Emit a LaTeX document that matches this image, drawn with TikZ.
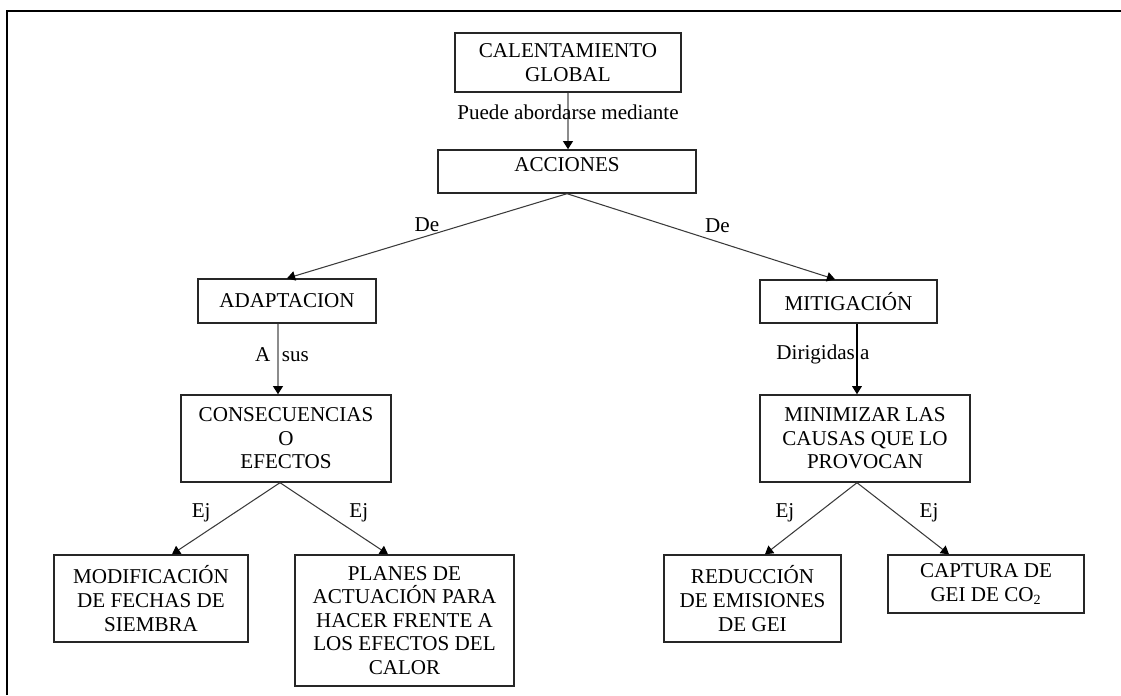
\documentclass[tikz,border=0pt]{standalone}
\usepackage{fontspec}
\setmainfont{Liberation Serif}
\usepackage{tikz}
\usetikzlibrary{arrows.meta, positioning}
\definecolor{boxline}{HTML}{262626}
\definecolor{linkgray}{HTML}{8C8C8C}
\definecolor{linkdark}{HTML}{3A3A3A}
\tikzset{
  concept/.style={draw=boxline, line width=0.8pt, align=center, inner sep=2pt,
    font=\fontsize{12}{13.4}\selectfont},
  tag/.style={font=\fontsize{12}{13.4}\selectfont, inner sep=2pt},
  link/.style={draw=linkdark, line width=0.6pt,
    -{Triangle[length=4.6pt, width=5.4pt, color=black]}},
  linkgrey/.style={draw=linkgray, line width=1.3pt,
    -{Triangle[length=4.6pt, width=5.4pt, color=black]}},
  linkblack/.style={draw=black, line width=0.9pt,
    -{Triangle[length=4.6pt, width=5.4pt, color=black]}}
}

\begin{document}
\begin{tikzpicture}
    \useasboundingbox (0,0) rectangle (22.42,13.9);
    % Frame (left and top only)
    \draw[line width=1.2pt] (0.14,0) |- (22.42,13.68);

    % Top
    \node[concept, minimum width=4.52cm, minimum height=1.18cm] (cal) at (11.36,12.65) {CALENTAMIENTO\\GLOBAL};
    \node[concept, minimum width=5.16cm, minimum height=0.86cm, text depth=0.26cm] (acc) at (11.34,10.47) {ACCIONES};

    % Two branches
    \node[concept, minimum width=3.56cm, minimum height=0.88cm] (adap) at (5.74,7.88) {ADAPTACION};
    \node[concept, minimum width=3.54cm, minimum height=0.86cm] (mit) at (16.97,7.87) {MITIGACIÓN};
    \node[concept, minimum width=4.2cm, minimum height=1.74cm] (cons) at (5.72,5.13) {CONSECUENCIAS\\O\\EFECTOS};
    \node[concept, minimum width=4.2cm, minimum height=1.74cm] (mini) at (17.3,5.13) {MINIMIZAR LAS\\CAUSAS QUE LO\\PROVOCAN};

    % Examples
    \node[concept, minimum width=3.88cm, minimum height=1.74cm] (modif) at (3.02,1.93) {MODIFICACIÓN\\DE FECHAS DE\\SIEMBRA};
    \node[concept, minimum width=4.38cm, minimum height=2.62cm] (plan) at (8.09,1.49) {PLANES DE\\ACTUACIÓN PARA\\HACER FRENTE A\\LOS EFECTOS DEL\\CALOR};
    \node[concept, minimum width=3.54cm, minimum height=1.74cm] (red) at (15.05,1.93) {REDUCCIÓN\\DE EMISIONES\\DE GEI};
    \node[concept, minimum width=3.92cm, minimum height=1.16cm] (cap) at (19.72,2.22) {CAPTURA DE\\GEI DE CO\textsubscript{2}};

    % Links
    \draw[linkgrey] (cal.south) -- (cal.south |- acc.north) node[tag, pos=0.35] {Puede abordarse mediante};
    \draw[link] (acc.south) -- (adap.north) node[tag, pos=0.5, above] {De};
    \draw[link] (acc.south) -- ([xshift=-0.27cm]mit.north) node[tag, pos=0.5, above right] {De};
    \draw[linkgrey] ([xshift=-0.18cm]adap.south) -- ([xshift=-0.18cm]adap.south |- cons.north) node[tag, pos=0.44, xshift=0.08cm] {A\hspace{0.55em}sus};
    \draw[linkblack] ([xshift=0.17cm]mit.south) -- ([xshift=0.17cm]mit.south |- mini.north) node[tag, pos=0.44, xshift=-0.68cm] {Dirigidas a};

    \draw[link] ([xshift=-0.12cm]cons.south) -- ([xshift=0.42cm]modif.north) node[tag, pos=0.42, left=0.4cm] {Ej};
    \draw[link] ([xshift=-0.12cm]cons.south) -- ([xshift=-0.33cm]plan.north) node[tag, pos=0.42, right=0.4cm] {Ej};
    \draw[link] ([xshift=-0.16cm]mini.south) -- ([xshift=0.25cm]red.north) node[tag, pos=0.42, left=0.4cm] {Ej};
    \draw[link] ([xshift=-0.16cm]mini.south) -- ([xshift=-0.74cm]cap.north) node[tag, pos=0.42, right=0.4cm] {Ej};
\end{tikzpicture}
\end{document}
